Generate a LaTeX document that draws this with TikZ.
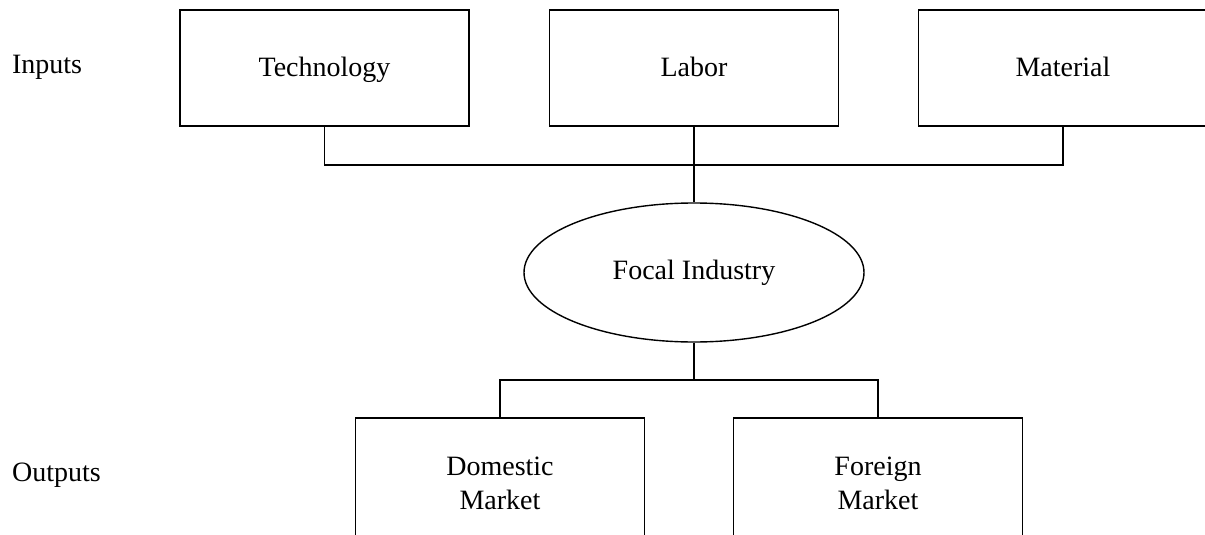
\documentclass[tikz,border=0pt]{standalone}
\usepackage{fontspec}
\setmainfont{Liberation Serif}
\usetikzlibrary{shapes.geometric}

\begin{document}
\begin{tikzpicture}[x=0.5pt,y=-0.5pt,
    box/.style={draw, line width=0.7pt, minimum width=144.5pt, minimum height=58pt, inner sep=0pt, align=center},
    inbox/.style={box, text height=11pt, text depth=2pt},
    hub/.style={draw, ellipse, line width=0.7pt, minimum width=170pt, minimum height=69.5pt, inner sep=0pt},
    link/.style={line width=0.75pt},
    font=\fontsize{14}{17}\selectfont]
        \useasboundingbox (0,0) rectangle (1205,535);
        \clip (0,0) rectangle (1205,535);
        % inputs
        \node[inbox] (tech) at (324.5,68) {Technology};
        \node[inbox] (labor) at (694,68) {Labor};
        \node[inbox] (material) at (1063,68) {Material};
        \node[anchor=west] (inputs) at (5,67) {Inputs};
        % industry
        \node[hub] (focal) at (694,272.5) {Focal Industry};
        % outputs
        \node[box, minimum height=65pt] (domestic) at (500,483) {Domestic\\Market};
        \node[box, minimum height=65pt] (foreign) at (878,483) {Foreign\\Market};
        \node[anchor=west] (outputs) at (5,475) {Outputs};
        % connectors
        \coordinate (topbar) at (0,165);
        \coordinate (botbar) at (0,380);
        \draw[link] (tech.south) |- (topbar -| material.south) -- (material.south);
        \draw[link] (labor.south) -- (focal.north);
        \draw[link] (focal.south) -- (focal.south |- botbar);
        \draw[link] (domestic.north) |- (botbar -| foreign.north) -- (foreign.north);
    \end{tikzpicture}
\end{document}
